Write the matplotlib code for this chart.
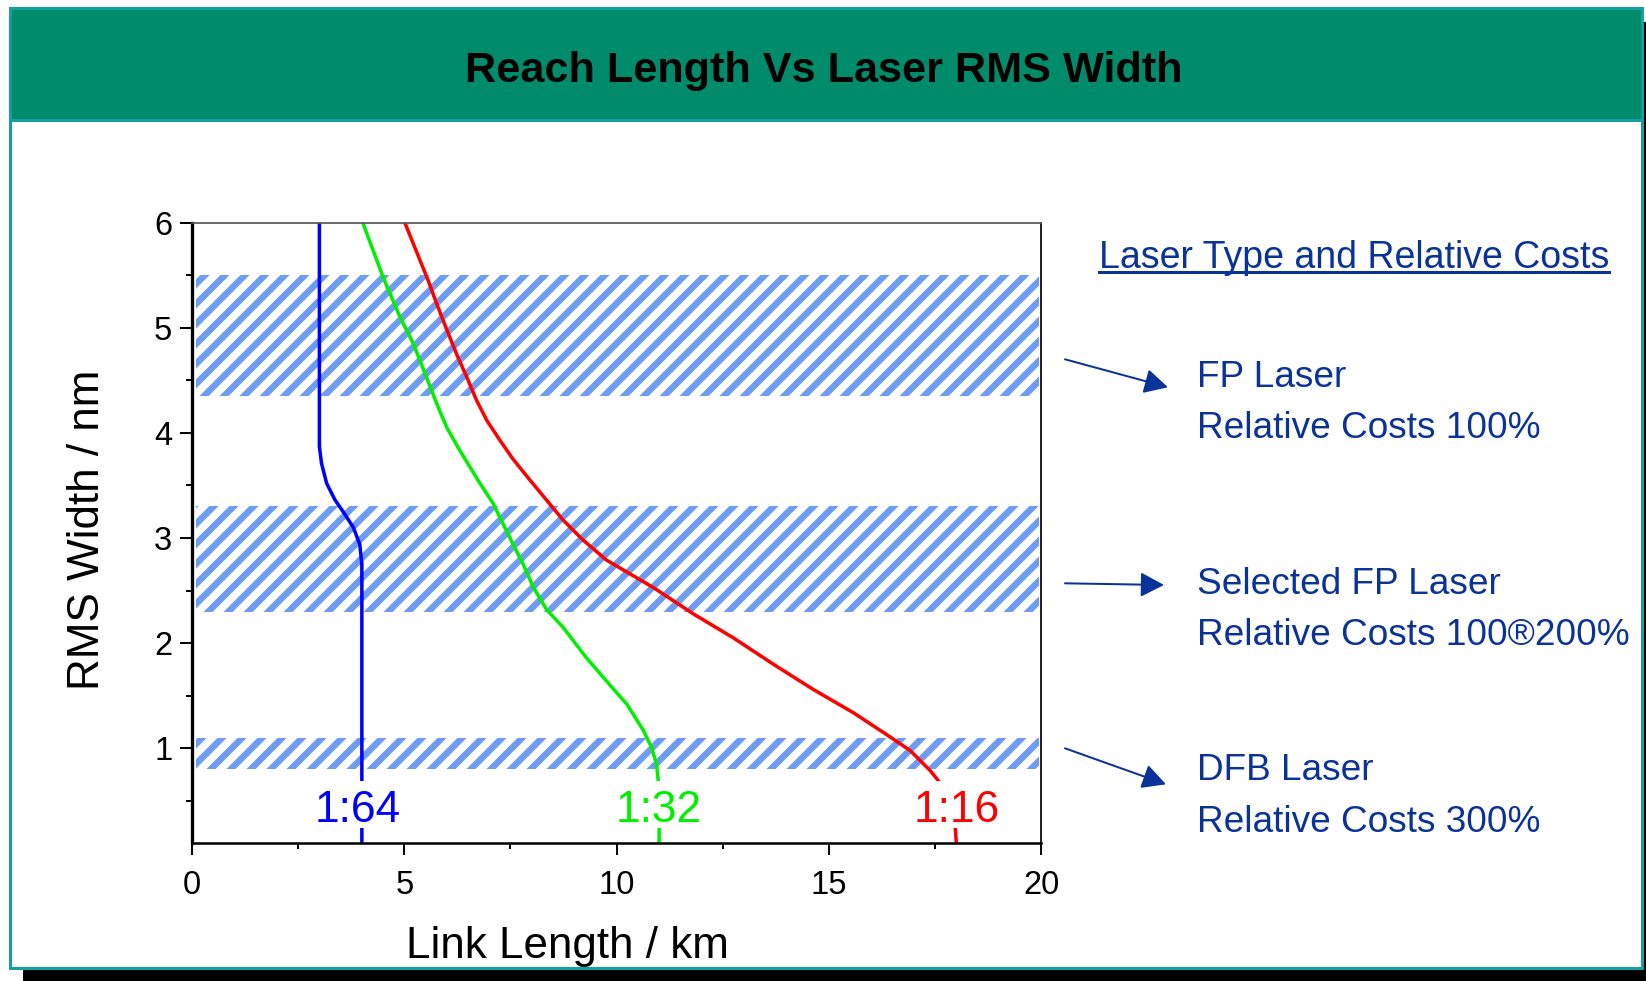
import matplotlib
matplotlib.use('Agg')
import matplotlib.pyplot as plt
from matplotlib.patches import Rectangle, FancyArrowPatch
from matplotlib.lines import Line2D
from matplotlib.ticker import MultipleLocator

W, H, DPI = 1646, 981, 120

# --- data ---
ratios = ['1:64', '1:32', '1:16']
ratio_colors = ['#0000ff', '#00f000', '#ff0000']
ratio_label_x = [3.9, 11.0, 18.0]
ratio_label_y = 0.3

blue_x = [3.0, 3.0, 3.05, 3.17, 3.37, 3.56, 3.80, 3.95, 4.0, 4.0]
blue_y = [6.0, 3.87, 3.71, 3.52, 3.36, 3.25, 3.10, 2.94, 2.75, 0.1]

green_x = [4.02, 4.50, 4.90, 5.21, 5.52, 5.76, 6.00, 6.31, 6.78, 7.09, 7.33, 7.56,
           7.80, 8.04, 8.35, 8.74, 9.29, 9.76, 10.24, 10.63, 10.82, 10.94, 10.98,
           11.0, 11.0]
green_y = [6.0, 5.48, 5.10, 4.85, 4.53, 4.28, 4.05, 3.83, 3.52, 3.33, 3.13, 2.94,
           2.75, 2.53, 2.32, 2.15, 1.86, 1.64, 1.42, 1.17, 1.01, 0.85, 0.69,
           0.5, 0.1]

red_x = [5.01, 5.21, 5.37, 5.56, 5.76, 6.00, 6.23, 6.47, 6.70, 6.94, 7.25, 7.56,
         7.96, 8.35, 8.74, 9.21, 9.76, 10.86, 11.80, 12.75, 13.69, 14.63, 15.57,
         16.36, 16.91, 17.38, 17.62, 17.85, 17.97, 18.0]
red_y = [6.0, 5.80, 5.64, 5.45, 5.23, 4.98, 4.75, 4.53, 4.31, 4.12, 3.93, 3.75,
         3.55, 3.36, 3.17, 2.98, 2.79, 2.53, 2.28, 2.05, 1.80, 1.56, 1.34,
         1.13, 0.98, 0.79, 0.67, 0.45, 0.26, 0.1]

band_lo = [4.35, 2.3, 0.8]
band_hi = [5.5, 3.3, 1.1]

laser_names = ['FP Laser', 'Selected FP Laser', 'DFB Laser']
laser_costs = ['Relative Costs 100%', 'Relative Costs 100®200%', 'Relative Costs 300%']

# --- layout (pixels of the 1646x981 picture, y from the top) ---
def fx(x):
    return x / W

def fy(y):
    return 1 - y / H

def pt(px):
    return px * 72.0 / DPI

SANS = ['Liberation Sans', 'DejaVu Sans']
NAVY = '#0a3399'
TEAL = '#14a0a0'
HEADER = '#008c6a'

plt.rcParams['font.family'] = SANS
plt.rcParams['hatch.linewidth'] = pt(6.5)

fig = plt.figure(figsize=(W / DPI, H / DPI), dpi=DPI, facecolor='white')

# slide frame: shadow, white panel, green title bar (behind the axes)
fig.add_artist(Rectangle((fx(23), fy(981)), fx(1646 - 23), 12 / H,
                         transform=fig.transFigure, fc='black', ec='none', zorder=-4))
fig.add_artist(Rectangle((fx(1642), fy(981)), fx(4), (981 - 22) / H,
                         transform=fig.transFigure, fc='black', ec='none', zorder=-4))
fig.add_artist(Rectangle((fx(10), fy(968)), fx(1632), (968 - 8) / H,
                         transform=fig.transFigure, fc='white', ec=TEAL,
                         lw=pt(3), zorder=-3))
fig.add_artist(Rectangle((fx(10), fy(120)), fx(1632), 112 / H,
                         transform=fig.transFigure, fc=HEADER, ec=TEAL,
                         lw=pt(3), zorder=-2))
fig.text(fx(824), fy(81.7), 'Reach Length Vs Laser RMS Width', ha='center',
         va='baseline', fontsize=pt(43.3), fontweight='bold', color='black')

# --- chart ---
ax = fig.add_axes([fx(192), fy(843), fx(1041.3 - 192), (843 - 222.5) / H])
ax.set_zorder(1)
ax.set_xlim(0, 20)
ax.set_ylim(0.1, 6)

for lo, hi in zip(band_lo, band_hi):
    ax.fill_between([0.1, 19.95], lo, hi, facecolor='none', edgecolor='#6e9cf5',
                    hatch='//', linewidth=0, zorder=1)

for xs, ys, c in zip([blue_x, green_x, red_x], [blue_y, green_y, red_y], ratio_colors):
    ax.plot(xs, ys, color=c, lw=pt(3.5), zorder=2)

for lbl, c, lx in zip(ratios, ratio_colors, ratio_label_x):
    ax.add_patch(Rectangle((lx - 1.05, 0.245), 2.1, 0.445, fc='white', ec='none', zorder=3))
    ax.text(lx, ratio_label_y, lbl, color=c, ha='center', va='baseline',
            fontsize=pt(44.3), zorder=4)

ax.xaxis.set_major_locator(MultipleLocator(5))
ax.xaxis.set_minor_locator(MultipleLocator(2.5))
ax.yaxis.set_major_locator(MultipleLocator(1))
ax.yaxis.set_minor_locator(MultipleLocator(0.5))
ax.tick_params(which='major', direction='out', length=pt(11.7), width=pt(2),
               labelsize=pt(32.6), colors='black')
ax.tick_params(which='minor', direction='out', length=pt(6), width=pt(2))
ax.tick_params(axis='x', which='major', pad=pt(15))
ax.tick_params(axis='y', which='major', pad=pt(8))
ax.spines['left'].set_linewidth(pt(3.3))
ax.spines['bottom'].set_linewidth(pt(2.5))
ax.spines['top'].set_linewidth(pt(1.7))
ax.spines['top'].set_color('#555555')
ax.spines['right'].set_linewidth(pt(1.7))

fig.text(fx(99.3), fy(530), 'RMS Width / nm', rotation=90, rotation_mode='anchor',
         ha='center', va='baseline', fontsize=pt(44))
fig.text(fx(567), fy(958), 'Link Length / km', ha='center', va='baseline',
         fontsize=pt(44))

# --- laser type notes on the right ---
hdr = fig.text(fx(1099), fy(268), 'Laser Type and Relative Costs', ha='left',
               va='baseline', fontsize=pt(37.5), color=NAVY)

name_base = [386.7, 594, 780]
cost_base = [438.3, 645, 831.7]
arrow_tail = [(1065, 359.3), (1065, 583.3), (1065, 748.3)]
arrow_tip = [(1168, 387.3), (1164, 585), (1166, 784.3)]

for name, cost, yn, yc, a0, a1 in zip(laser_names, laser_costs, name_base, cost_base,
                                      arrow_tail, arrow_tip):
    fig.text(fx(1197), fy(yn), name, ha='left', va='baseline', fontsize=pt(37),
             color=NAVY)
    fig.text(fx(1197), fy(yc), cost, ha='left', va='baseline', fontsize=pt(37),
             color=NAVY)
    fig.add_artist(FancyArrowPatch((fx(a0[0]), fy(a0[1])), (fx(a1[0]), fy(a1[1])),
                                   transform=fig.transFigure,
                                   arrowstyle='-|>,head_length=%.2f,head_width=%.2f' % (pt(20), pt(10.5)),
                                   mutation_scale=1, shrinkA=0, shrinkB=0,
                                   color=NAVY, lw=pt(2)))

# underline the header
fig.canvas.draw()
bb = hdr.get_window_extent()
fig.add_artist(Line2D([bb.x0 / fig.bbox.width, bb.x1 / fig.bbox.width], [fy(271.7)] * 2,
                      transform=fig.transFigure, color=NAVY, lw=pt(3)))

fig.savefig('out.png', dpi=DPI, facecolor='white')
